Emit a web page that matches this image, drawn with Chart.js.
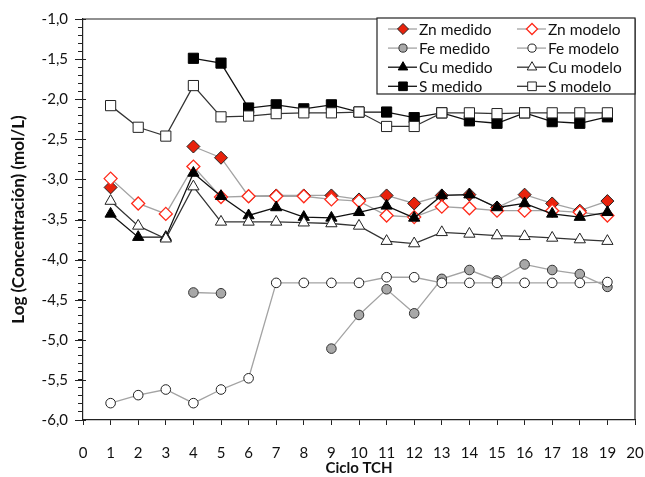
<!DOCTYPE html>
<html><head><meta charset="utf-8">
<script src="https://cdn.jsdelivr.net/npm/chart.js@4/dist/chart.umd.min.js"></script>
<style>html,body{margin:0;padding:0;background:#fff}</style>
</head><body>
<canvas id="c" width="645" height="477"></canvas>
<script>
const ciclos = [1,2,3,4,5,6,7,8,9,10,11,12,13,14,15,16,17,18,19];
const xTicks = [0,1,2,3,4,5,6,7,8,9,10,11,12,13,14,15,16,17,18,19,20];
const znMedido = [-3.10,null,null,-2.59,-2.73,-3.21,-3.20,-3.20,-3.20,-3.25,-3.20,-3.30,-3.20,-3.19,-3.35,-3.19,-3.30,-3.39,-3.27];
const znModelo = [-2.99,-3.30,-3.43,-2.84,-3.22,-3.21,-3.21,-3.21,-3.25,-3.27,-3.45,-3.47,-3.34,-3.36,-3.39,-3.39,-3.39,-3.41,-3.45];
const feMedido = [null,null,null,-4.41,-4.42,null,null,null,-5.11,-4.69,-4.37,-4.67,-4.24,-4.13,-4.26,-4.06,-4.13,-4.18,-4.34];
const feModelo = [-5.79,-5.69,-5.62,-5.79,-5.62,-5.48,-4.29,-4.29,-4.29,-4.29,-4.22,-4.22,-4.29,-4.29,-4.29,-4.29,-4.29,-4.29,-4.28];
const cuMedido = [-3.43,-3.72,-3.72,-2.92,-3.21,-3.45,-3.35,-3.47,-3.48,-3.41,-3.33,-3.48,-3.20,-3.19,-3.35,-3.30,-3.43,-3.47,-3.41];
const cuModelo = [-3.27,-3.58,-3.74,-3.09,-3.53,-3.53,-3.53,-3.54,-3.55,-3.58,-3.77,-3.80,-3.66,-3.68,-3.70,-3.71,-3.73,-3.75,-3.77];
const sMedido = [null,null,null,-1.49,-1.55,-2.11,-2.07,-2.12,-2.07,-2.16,-2.16,-2.23,-2.17,-2.27,-2.30,-2.17,-2.28,-2.30,-2.22];
const sModelo = [-2.08,-2.35,-2.46,-1.83,-2.22,-2.21,-2.18,-2.17,-2.17,-2.16,-2.34,-2.34,-2.17,-2.17,-2.18,-2.17,-2.17,-2.17,-2.17];
const yMajor = [-6,-5.5,-5,-4.5,-4,-3.5,-3,-2.5,-2,-1.5,-1];

const pts = arr => ciclos.map((c,i)=>({x:c,y:arr[i]}));
const GRAY = '#a3a3a3', DARK = '#111';
const RED = '#e8220c';
function ds(label, arr, o){
  return Object.assign({label, data: pts(arr), borderWidth:1.3, pointBorderWidth:1, spanGaps:false, tension:0, showLine:true}, o);
}
const datasets = [
  ds('Zn medido', znMedido, {borderColor:GRAY, pointStyle:'rectRot', pointRadius:6.5, pointBackgroundColor:RED, pointBorderColor:'#222'}),
  ds('Zn modelo', znModelo, {borderColor:GRAY, pointStyle:'rectRot', pointRadius:6.5, pointBackgroundColor:'#fff', pointBorderColor:'#ff2a1a', pointBorderWidth:1.3}),
  ds('Fe medido', feMedido, {borderColor:GRAY, pointStyle:'circle', pointRadius:4.8, pointBackgroundColor:'#a8a8a8', pointBorderColor:'#333'}),
  ds('Fe modelo', feModelo, {borderColor:GRAY, pointStyle:'circle', pointRadius:4.8, pointBackgroundColor:'#fff', pointBorderColor:'#222'}),
  ds('Cu medido', cuMedido, {borderColor:DARK, pointStyle:'triangle', pointRadius:6.5, pointBackgroundColor:'#000', pointBorderColor:'#000'}),
  ds('Cu modelo', cuModelo, {borderColor:'#333', pointStyle:'triangle', pointRadius:6.5, pointBackgroundColor:'#fff', pointBorderColor:'#222'}),
  ds('S medido', sMedido, {borderColor:DARK, pointStyle:'rect', pointRadius:7.2, pointBackgroundColor:'#000', pointBorderColor:'#000'}),
  ds('S modelo', sModelo, {borderColor:'#333', pointStyle:'rect', pointRadius:7.2, pointBackgroundColor:'#fff', pointBorderColor:'#222'})
];
datasets.forEach((d,i)=>{ d.order = datasets.length - i; d.backgroundColor = d.pointBackgroundColor; });

const frame = {
  id:'frame',
  afterDraw(chart){
    const ctx = chart.ctx, ca = chart.chartArea, ys = chart.scales.y;
    ctx.save();
    ctx.strokeStyle = '#222'; ctx.lineWidth = 1.2;
    ctx.beginPath();
    ctx.moveTo(ca.left, ca.top); ctx.lineTo(ca.right, ca.top); ctx.lineTo(ca.right, ca.bottom);
    ctx.stroke();
    ctx.lineWidth = 1;
    yMajor.forEach(v=>{ const y = Math.round(ys.getPixelForValue(v))+0.5; ctx.beginPath(); ctx.moveTo(ca.left-8, y); ctx.lineTo(ca.left+3, y); ctx.stroke(); });
    // legend box
    const bw = 258, bh = 76, bx = ca.right - bw, by = ca.top - 1;
    ctx.fillStyle = '#fff'; ctx.fillRect(bx, by, bw, bh);
    ctx.strokeStyle = '#222'; ctx.lineWidth = 1.2; ctx.strokeRect(bx, by, bw, bh);
    ctx.font = '15.5px Lato'; ctx.textBaseline = 'middle'; ctx.textAlign = 'left';
    chart.data.datasets.forEach((d,i)=>{
      const col = i%2, row = Math.floor(i/2);
      const lx = bx + 11 + col*129, ly = by + 11 + row*19.1;
      ctx.strokeStyle = d.borderColor; ctx.lineWidth = 1.3;
      ctx.beginPath(); ctx.moveTo(lx, ly); ctx.lineTo(lx+29, ly); ctx.stroke();
      ctx.fillStyle = d.pointBackgroundColor; ctx.strokeStyle = d.pointBorderColor; ctx.lineWidth = d.pointBorderWidth;
      Chart.helpers.drawPoint(ctx, {pointStyle:d.pointStyle, radius:d.pointRadius*0.85, rotation:0, borderWidth:d.pointBorderWidth}, lx+15, ly);
      ctx.fillStyle = '#111';
      ctx.fillText(d.label, lx+31, ly+1);
    });
    ctx.restore();
  }
};

new Chart(document.getElementById('c'), {
  type:'line',
  data:{datasets},
  options:{
    responsive:false, animation:false,
    layout:{padding:{left:0, right:0, top:14, bottom:0}},
    plugins:{legend:{display:false}, tooltip:{enabled:false}},
    scales:{
      x:{type:'linear', min:0, max:20,
        afterBuildTicks: s => { s.ticks = xTicks.map(v=>({value:v})); },
        afterFit: s => { s.height = 57; s.paddingRight = 10; s.paddingLeft = 0; },
        ticks:{font:{family:'Lato', size:15}, color:'#111', padding:19, autoSkip:false, maxRotation:0},
        grid:{drawOnChartArea:false, drawTicks:true, tickLength:5, color:'#222'},
        border:{color:'#222', width:1.2},
        title:{display:true, text:'Ciclo TCH', font:{family:'Lato', size:15, weight:'bold'}, color:'#111', padding:{top:0, bottom:0}}
      },
      y:{type:'linear', min:-6, max:-1,
        ticks:{stepSize:0.1, autoSkip:false, font:{family:'Lato', size:15}, color:'#111', padding:10,
          callback: v => (Math.abs(v*2 - Math.round(v*2))<1e-6) ? v.toFixed(1).replace('.',',') : ''},
        afterFit: s => { s.width = 83; },
        grid:{drawOnChartArea:false, drawTicks:true, tickLength:5, color:'#222'},
        border:{color:'#222', width:1.2},
        title:{display:true, text:'Log (Concentración) (mol/L)', font:{family:'Lato', size:17, weight:'bold'}, color:'#111', padding:{top:8, bottom:0}}
      }
    }
  },
  plugins:[frame]
});
</script>
</body></html>
